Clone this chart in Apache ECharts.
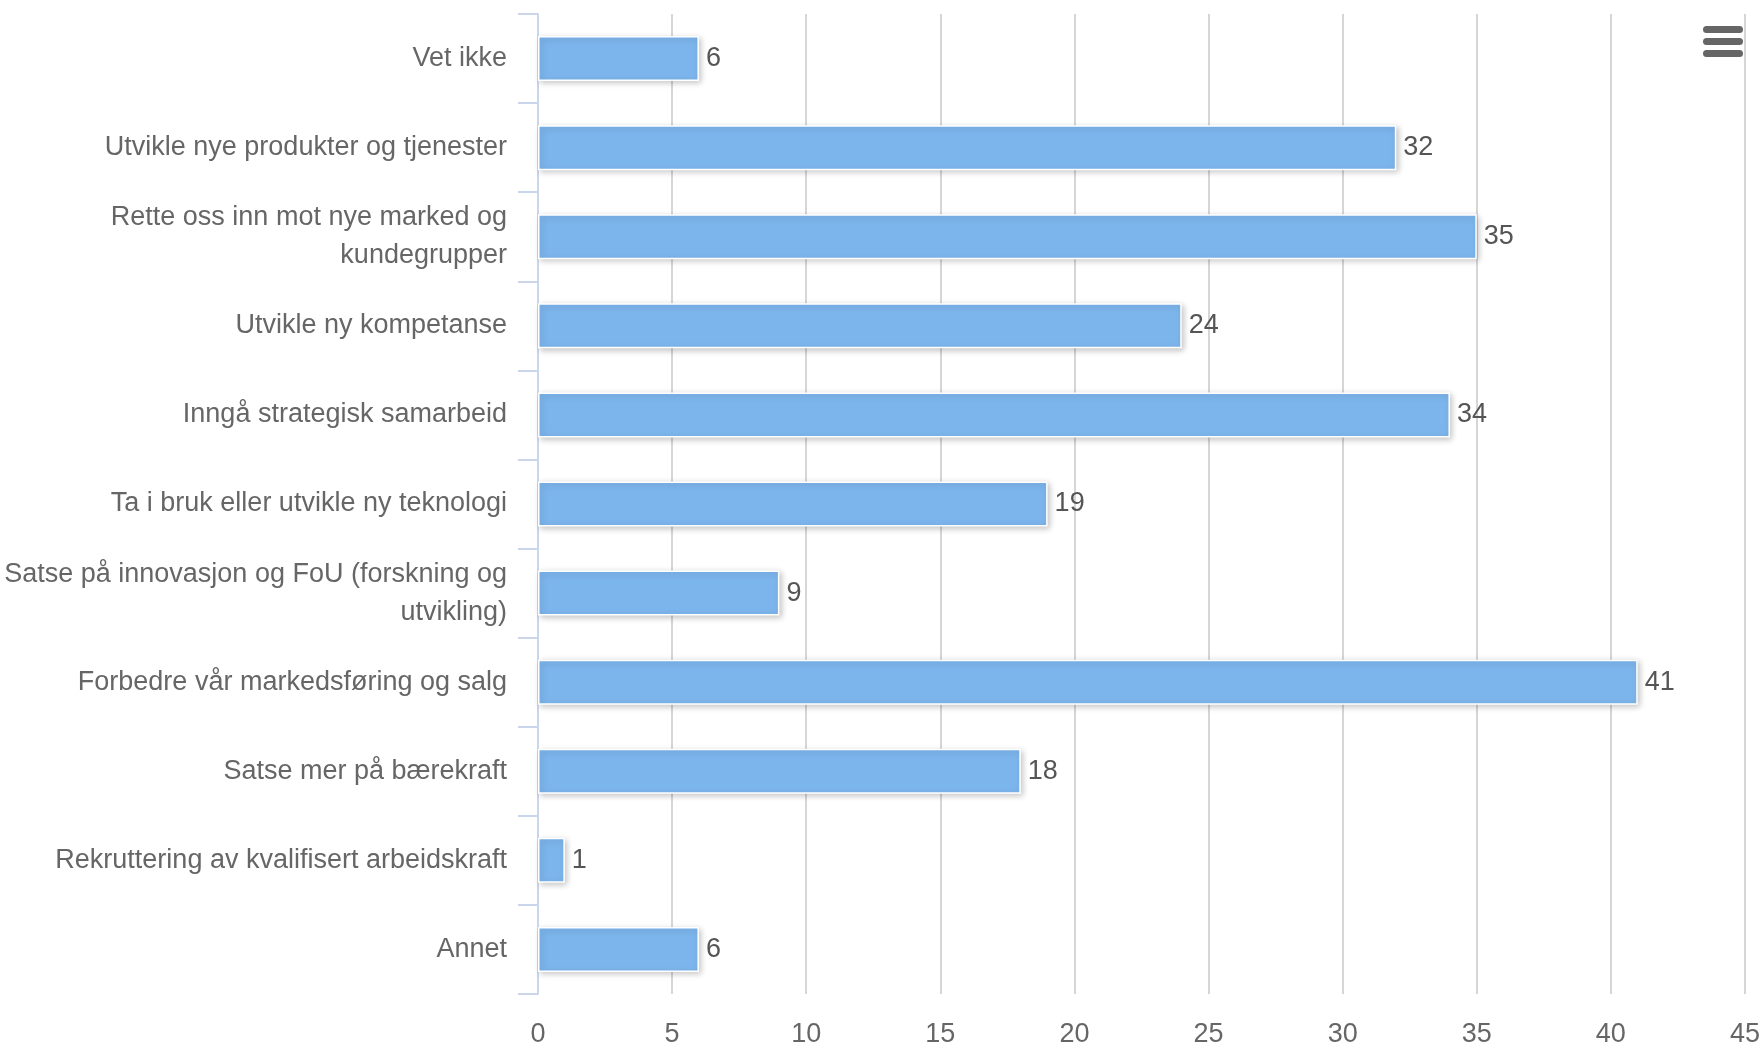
<!DOCTYPE html>
<html>
<head>
<meta charset="utf-8">
<script src="https://cdn.jsdelivr.net/npm/echarts@6/dist/echarts.min.js"></script>
<style>
html,body{margin:0;padding:0;background:#fff;}
#chart{width:1763px;height:1048px;}
</style>
</head>
<body>
<div id="chart"></div>
<script>
const categories = [
  "Vet ikke",
  "Utvikle nye produkter og tjenester",
  "Rette oss inn mot nye marked og kundegrupper",
  "Utvikle ny kompetanse",
  "Inngå strategisk samarbeid",
  "Ta i bruk eller utvikle ny teknologi",
  "Satse på innovasjon og FoU (forskning og utvikling)",
  "Forbedre vår markedsføring og salg",
  "Satse mer på bærekraft",
  "Rekruttering av kvalifisert arbeidskraft",
  "Annet"
];
const values = [6, 32, 35, 24, 34, 19, 9, 41, 18, 1, 6];
const xTicks = { min: 0, max: 45, interval: 5 };

const FONT = '"Liberation Sans Narrow", "Liberation Sans", sans-serif';

function wrap(s, n) {
  const words = s.split(' ');
  const lines = [];
  let cur = '';
  for (const w of words) {
    const t = cur ? cur + ' ' + w : w;
    if (t.length > n && cur) { lines.push(cur); cur = w; } else { cur = t; }
  }
  if (cur) lines.push(cur);
  return lines.join('\n');
}

const chart = echarts.init(document.getElementById('chart'));
chart.setOption({
  animation: false,
  backgroundColor: '#ffffff',
  grid: { left: 538, right: 17, top: 14, bottom: 48, containLabel: false },
  xAxis: {
    type: 'value',
    min: xTicks.min, max: xTicks.max, interval: xTicks.interval,
    axisLine: { show: false },
    axisTick: { show: false },
    splitLine: { show: true, lineStyle: { color: '#c8c8c8', width: 1.5 } },
    axisLabel: { color: '#666666', fontFamily: FONT, fontSize: 27, margin: 27 }
  },
  yAxis: {
    type: 'category',
    inverse: true,
    data: categories,
    axisLine: { show: true, lineStyle: { color: '#ccd6eb', width: 2 } },
    axisTick: { show: true, length: 20, lineStyle: { color: '#ccd6eb', width: 2 } },
    axisLabel: {
      color: '#666666', fontFamily: FONT, fontSize: 27, margin: 31, lineHeight: 38,
      formatter: v => wrap(v, 40)
    },
    splitLine: { show: false }
  },
  series: [{
    type: 'bar',
    data: values,
    barWidth: 45,
    itemStyle: {
      color: '#7cb5ec',
      borderColor: '#ffffff',
      borderWidth: 1.5,
      shadowColor: 'rgba(0,0,0,0.22)',
      shadowBlur: 6,
      shadowOffsetX: 2,
      shadowOffsetY: 2
    },
    label: {
      show: true, position: 'right', distance: 7,
      color: '#555555', fontFamily: FONT, fontSize: 27
    }
  }],
  graphic: [
    { type: 'rect', shape: { x: 1703, y: 26, width: 40, height: 7, r: 3.5 }, style: { fill: '#666666' } },
    { type: 'rect', shape: { x: 1703, y: 38, width: 40, height: 7, r: 3.5 }, style: { fill: '#666666' } },
    { type: 'rect', shape: { x: 1703, y: 50, width: 40, height: 7, r: 3.5 }, style: { fill: '#666666' } }
  ]
});
</script>
</body>
</html>
